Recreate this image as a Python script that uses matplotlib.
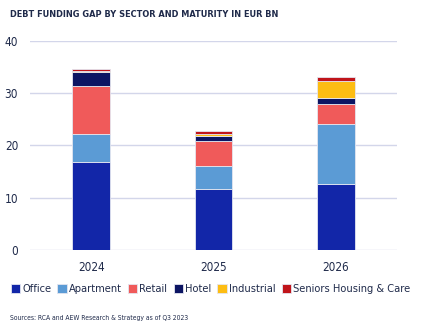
import matplotlib.pyplot as plt
import numpy as np

plt.rcParams["font.family"] = ["DejaVu Sans"]
plt.rcParams["font.stretch"] = "condensed"

years = ["2024", "2025", "2026"]
sectors = ["Office", "Apartment", "Retail", "Hotel", "Industrial", "Seniors Housing & Care"]
office = [16.9, 11.7, 12.6]
apartment = [5.3, 4.3, 11.5]
retail = [9.2, 4.9, 3.9]
hotel = [2.7, 1.0, 1.15]
industrial = [0.1, 0.3, 3.25]
seniors = [0.5, 0.5, 0.7]

colors = ["#1226a8", "#5b9bd5", "#f05a5a", "#0c1563", "#fdbd13", "#c0141a"]
text_col = "#1f2a4a"

fig = plt.figure(figsize=(4.21, 3.28), dpi=100)
ax = fig.add_axes([0.0713, 0.238, 0.8717, 0.637])

x = np.arange(len(years))
bottom = np.zeros(len(years))
for name, vals, c in zip(sectors, [office, apartment, retail, hotel, industrial, seniors], colors):
    ax.bar(x, vals, 0.31, bottom=bottom, color=c, edgecolor="#e4e6f0", linewidth=0.6,
           label=name, zorder=3)
    bottom += np.array(vals)

ax.set_xlim(-0.5, 2.5)
ax.set_ylim(0, 40)
ax.set_yticks([0, 10, 20, 30, 40])
ax.set_xticks(x)
ax.set_xticklabels(years)
ax.grid(axis="y", color="#d3d6ea", linewidth=1.0, zorder=0)
for s in ax.spines.values():
    s.set_visible(False)
ax.tick_params(length=0, labelsize=8.5, colors=text_col)
ax.tick_params(axis="y", pad=8.5)
ax.tick_params(axis="x", pad=8)

fig.text(0.024, 0.955, "DEBT FUNDING GAP BY SECTOR AND MATURITY IN EUR BN",
         fontsize=6.6, fontweight="bold", color=text_col, va="center")

fig.legend(loc="center", bbox_to_anchor=(0.5, 0.118), ncol=6, frameon=False,
           fontsize=7.9, handlelength=0.85, handleheight=0.85, handletextpad=0.2,
           columnspacing=0.55, labelcolor=text_col, borderaxespad=0, borderpad=0)

fig.text(0.024, 0.03, "Sources: RCA and AEW Research & Strategy as of Q3 2023",
         fontsize=4.9, color=text_col, va="center")

fig.savefig("out.png", dpi=100)
